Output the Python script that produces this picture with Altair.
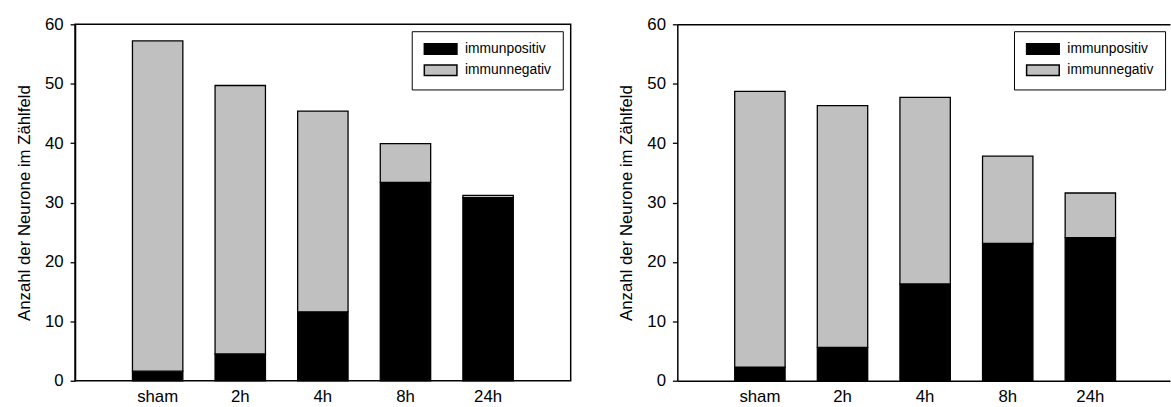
import altair as alt
import pandas as pd

categories = ["sham", "2h", "4h", "8h", "24h"]
series = ["immunpositiv", "immunnegativ"]
colors = ["#000000", "#C0C0C0"]

# left panel
left_pos = [1.6, 4.5, 11.6, 33.4, 30.8]
left_neg = [55.6, 45.2, 33.8, 6.5, 0.4]
# right panel
right_pos = [2.3, 5.6, 16.3, 23.1, 24.1]
right_neg = [46.4, 40.7, 31.4, 14.7, 7.5]

y_ticks = [0, 10, 20, 30, 40, 50, 60]
y_title = "Anzahl der Neurone im Zählfeld"
FONT = "Liberation Sans"


def make_df(pos, neg):
    rows = []
    for c, p, n in zip(categories, pos, neg):
        rows.append({"cat": c, "typ": series[0], "val": p, "ord": 0})
        rows.append({"cat": c, "typ": series[1], "val": n, "ord": 1})
    return pd.DataFrame(rows)


def panel(pos, neg, width, pad_outer, align, framed):
    df = make_df(pos, neg)
    xscale = alt.Scale(paddingInner=0.39, paddingOuter=pad_outer, align=align)
    yenc = alt.Y("val:Q", stack="zero", title=y_title,
                 scale=alt.Scale(domain=[0, 60], nice=False),
                 axis=alt.Axis(values=y_ticks, grid=False, tickSize=5, tickColor="black",
                               tickWidth=1.3, domainColor="black", domainWidth=1.5,
                               labelFont=FONT, labelFontSize=17, labelColor="black",
                               labelPadding=7, titleFont=FONT, titleFontSize=17,
                               titleFontWeight="normal", titleColor="black",
                               titlePadding=11))
    bars = alt.Chart(df).mark_bar(stroke="black", strokeWidth=1.3).encode(
        x=alt.X("cat:N", sort=categories, title=None, scale=xscale,
                axis=alt.Axis(labelAngle=0, ticks=False, domain=not framed,
                              domainColor="black", domainWidth=1.5,
                              labelFont=FONT, labelFontSize=17, labelColor="black",
                              labelPadding=8)),
        y=yenc,
        color=alt.Color("typ:N",
                        scale=alt.Scale(domain=series, range=colors),
                        legend=alt.Legend(title=None, orient="none", legendX=341, legendY=7,
                                          symbolType="M-1,-1H5.3V1H-1Z", symbolSize=110,
                                          symbolStrokeColor="black", symbolStrokeWidth=1.5,
                                          symbolOpacity=1,
                                          labelFont=FONT, labelFontSize=14, labelColor="black",
                                          labelOffset=29, rowPadding=3.5, padding=11,
                                          strokeColor="black", fillColor="white")),
        order=alt.Order("ord:Q"),
    )
    if framed:
        return bars.properties(width=width, height=361)
    # top frame line drawn as a top axis domain (right edge is cut off in the original)
    top = alt.Chart(df).mark_bar(opacity=0).encode(
        x=alt.X("cat:N", sort=categories, title=None, scale=xscale,
                axis=alt.Axis(orient="top", labels=False, ticks=False, domain=True,
                              domainColor="black", domainWidth=1.5)),
        y=alt.Y("val:Q", stack="zero"),
    )
    return alt.layer(bars, top).resolve_axis(x="independent").properties(
        width=width, height=361, view=alt.ViewBackground(stroke="transparent")
    )


chart = alt.hconcat(
    panel(left_pos, left_neg, 502, 0.695, 0.5, True),
    panel(right_pos, right_neg, 499, 0.677, 0.513, False),
    spacing=46,
).resolve_scale(
    color="independent"
).configure_view(stroke="black", strokeWidth=1.5).properties(
    padding={"left": 15, "top": 12, "right": 0, "bottom": 0}, background="white"
)

chart.save("out.html", embed_options={"renderer": "svg", "actions": False})
